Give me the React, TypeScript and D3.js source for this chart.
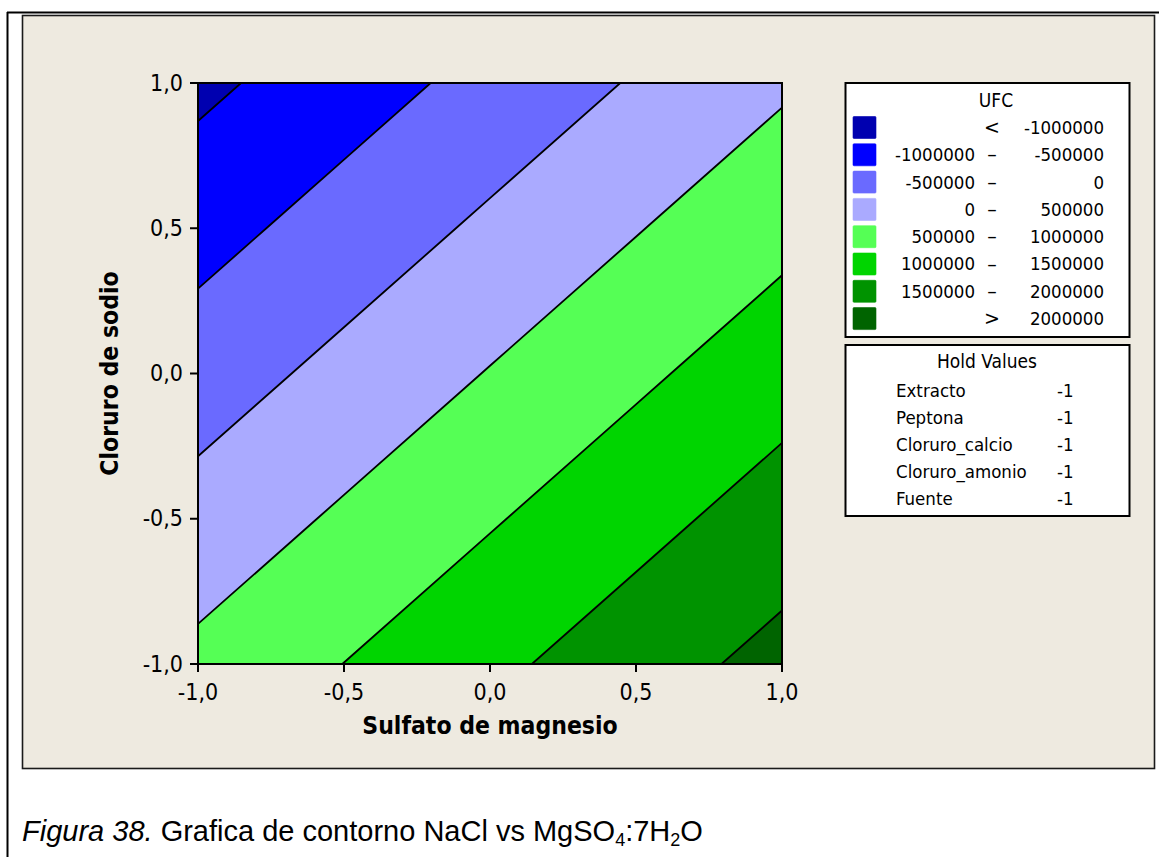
import React from "react";
import * as d3 from "d3";

// Factor levels (coded units) of the response-surface grid
const sulfatoLevels = [-1, -0.5, 0, 0.5, 1];
const cloruroLevels = [1, 0.5, 0, -0.5, -1]; // top row first

// Predicted UFC at each grid node, one array per Cloruro de sodio level
const ufcNaClP100 = [-1113500, -728500, -343500, 41500, 426500];
const ufcNaClP050 = [-680250, -295250, 89750, 474750, 859750];
const ufcNaCl000 = [-247000, 138000, 523000, 908000, 1293000];
const ufcNaClM050 = [186250, 571250, 956250, 1341250, 1726250];
const ufcNaClM100 = [619500, 1004500, 1389500, 1774500, 2159500];

// Contour levels and band colours
const levels = [-1000000, -500000, 0, 500000, 1000000, 1500000, 2000000];
const bandColors = [
  "#0000B0",
  "#0000FF",
  "#6A6AFF",
  "#AAAAFF",
  "#55FF55",
  "#00D500",
  "#009300",
  "#006400",
];

// Legend rows
const legendLow = ["", "-1000000", "-500000", "0", "500000", "1000000", "1500000", ""];
const legendSep = ["<", "–", "–", "–", "–", "–", "–", ">"];
const legendHigh = ["-1000000", "-500000", "0", "500000", "1000000", "1500000", "2000000", "2000000"];

// Hold values
const holdFactors = ["Extracto", "Peptona", "Cloruro_calcio", "Cloruro_amonio", "Fuente"];
const holdSettings = [-1, -1, -1, -1, -1];

// Axis ticks
const axisTicks = [-1, -0.5, 0, 0.5, 1];
const fmt = (v: number) => d3.format(".1f")(v).replace(".", ",").replace("−", "-");

const W = 1159;
const H = 857;
const plot = { left: 198, right: 782, top: 83, bottom: 664 };

const tickFont = "'DejaVu Sans Condensed', 'DejaVu Sans', sans-serif";

export default function App() {
  const x = d3.scaleLinear().domain([-1, 1]).range([plot.left, plot.right]);
  const y = d3.scaleLinear().domain([-1, 1]).range([plot.bottom, plot.top]);

  const nx = sulfatoLevels.length;
  const ny = cloruroLevels.length;
  const grid = [...ufcNaClP100, ...ufcNaClP050, ...ufcNaCl000, ...ufcNaClM050, ...ufcNaClM100];

  // d3.contours puts grid node i at coordinate i + 0.5
  const gx = d3.scaleLinear().domain([0.5, nx - 0.5]).range([sulfatoLevels[0], sulfatoLevels[nx - 1]]);
  const gy = d3.scaleLinear().domain([0.5, ny - 0.5]).range([cloruroLevels[0], cloruroLevels[ny - 1]]);

  const bands = d3.contours().size([nx, ny]).thresholds(levels)(grid);
  const path = d3.geoPath(
    d3.geoTransform({
      point(px: number, py: number) {
        // @ts-ignore
        this.stream.point(x(gx(px)), y(gy(py)));
      },
    })
  );

  const legendRowY = (i: number) => 127.5 + i * 27.3;
  const holdRowY = (i: number) => 397 + i * 26.9;

  return (
    <svg
      width={W}
      height={H}
      style={{ position: "absolute", left: 0, top: 0, background: "#fff" }}
    >
      <defs>
        <clipPath id="plotClip">
          <rect
            x={plot.left}
            y={plot.top}
            width={plot.right - plot.left}
            height={plot.bottom - plot.top}
          />
        </clipPath>
      </defs>

      {/* page frame */}
      <line x1={7.5} y1={12} x2={7.5} y2={H} stroke="#000" strokeWidth={2} />
      <line x1={7} y1={12.5} x2={W} y2={12.5} stroke="#000" strokeWidth={2} />

      {/* graph panel */}
      <rect x={22.5} y={15.5} width={1132} height={753} fill="#EEEAE0" stroke="#1a1a1a" strokeWidth={1.6} />

      {/* filled contour bands */}
      <g clipPath="url(#plotClip)">
        <rect
          x={plot.left}
          y={plot.top}
          width={plot.right - plot.left}
          height={plot.bottom - plot.top}
          fill={bandColors[0]}
        />
        {bands.map((b, i) => (
          <path key={"f" + i} d={path(b as any) || ""} fill={bandColors[i + 1]} stroke="none" />
        ))}
        {bands.map((b, i) => (
          <path key={"l" + i} d={path(b as any) || ""} fill="none" stroke="#000" strokeWidth={1.8} strokeLinejoin="round" />
        ))}
      </g>

      {/* plot frame */}
      <rect
        x={plot.left}
        y={plot.top}
        width={plot.right - plot.left}
        height={plot.bottom - plot.top}
        fill="none"
        stroke="#000"
        strokeWidth={2}
      />

      {/* y axis */}
      {axisTicks.map((t) => (
        <g key={"y" + t}>
          <line x1={plot.left - 8} x2={plot.left} y1={y(t)} y2={y(t)} stroke="#000" strokeWidth={2} />
          <text
            x={183}
            y={y(t)}
            dy="0.33em"
            textAnchor="end"
            fontFamily={tickFont}
            fontSize={23}
            fill="#000"
          >
            {fmt(t)}
          </text>
        </g>
      ))}

      {/* x axis */}
      {axisTicks.map((t) => (
        <g key={"x" + t}>
          <line x1={x(t)} x2={x(t)} y1={plot.bottom} y2={plot.bottom + 8} stroke="#000" strokeWidth={2} />
          <text
            x={x(t)}
            y={700}
            textAnchor="middle"
            fontFamily={tickFont}
            fontSize={23}
            fill="#000"
          >
            {fmt(t)}
          </text>
        </g>
      ))}

      <text
        x={(plot.left + plot.right) / 2}
        y={734}
        textAnchor="middle"
        fontFamily={tickFont}
        fontWeight="bold"
        fontSize={24.5}
        fill="#000"
      >
        Sulfato de magnesio
      </text>
      <text
        transform={`translate(118, ${(plot.top + plot.bottom) / 2}) rotate(-90)`}
        textAnchor="middle"
        fontFamily={tickFont}
        fontWeight="bold"
        fontSize={24.5}
        fill="#000"
      >
        Cloruro de sodio
      </text>

      {/* UFC legend */}
      <rect x={845.5} y={83} width={284} height={254} fill="#fff" stroke="#000" strokeWidth={2} />
      <text x={996} y={107} textAnchor="middle" fontFamily={tickFont} fontSize={19} fill="#000">
        UFC
      </text>
      {bandColors.map((c, i) => (
        <g key={"lg" + i}>
          <rect x={853} y={legendRowY(i) - 11} width={23} height={22} fill={c} stroke={c} strokeOpacity={0.6} rx={1} />
          <text x={975} y={legendRowY(i)} dy="0.35em" textAnchor="end" fontFamily={tickFont} fontSize={18.5} fill="#000">
            {legendLow[i]}
          </text>
          <text x={992} y={legendRowY(i)} dy="0.35em" textAnchor="middle" fontFamily="'DejaVu Sans', sans-serif" fontSize={19} fill="#000">
            {legendSep[i]}
          </text>
          <text x={1104} y={legendRowY(i)} dy="0.35em" textAnchor="end" fontFamily={tickFont} fontSize={18.5} fill="#000">
            {legendHigh[i]}
          </text>
        </g>
      ))}

      {/* hold values */}
      <rect x={845.5} y={345} width={284} height={171} fill="#fff" stroke="#000" strokeWidth={2} />
      <text x={987} y={368} textAnchor="middle" fontFamily={tickFont} fontSize={19} fill="#000">
        Hold Values
      </text>
      {holdFactors.map((f, i) => (
        <g key={"h" + i}>
          <text x={896} y={holdRowY(i)} fontFamily={tickFont} fontSize={18.5} fill="#000">
            {f}
          </text>
          <text x={1057} y={holdRowY(i)} fontFamily={tickFont} fontSize={18.5} fill="#000">
            {String(holdSettings[i])}
          </text>
        </g>
      ))}

      {/* caption */}
      <text x={22} y={841} fontFamily="'Liberation Sans', Arial, sans-serif" fontSize={29} fill="#000">
        <tspan fontStyle="italic">Figura 38.</tspan>
        <tspan> Grafica de contorno NaCl vs MgSO</tspan>
        <tspan dy={5} fontSize={18}>4</tspan>
        <tspan dy={-5}>:7H</tspan>
        <tspan dy={5} fontSize={18}>2</tspan>
        <tspan dy={-5}>O</tspan>
      </text>
    </svg>
  );
}
